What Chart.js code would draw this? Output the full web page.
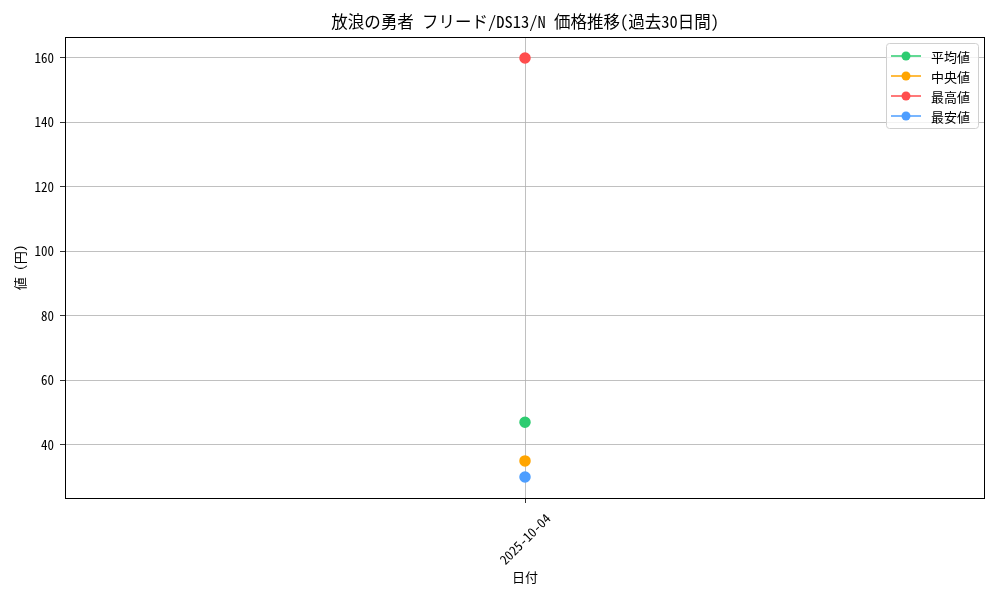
<!DOCTYPE html>
<html>
<head>
<meta charset="utf-8">
<script src="https://cdn.jsdelivr.net/npm/chart.js@4"></script>
<style>
  html, body { margin: 0; padding: 0; background: #fff; }
  #wrap { width: 1000px; height: 600px; }
</style>
</head>
<body>
<div id="wrap"><canvas id="chart" width="1000" height="600"></canvas></div>
<script>
const FONT = "'Noto Sans Mono CJK JP', 'Noto Sans CJK JP', monospace";

const title = "放浪の勇者 フリード/DS13/N 価格推移(過去30日間)";
const dates = ["2025-10-04"];
const avgValues = [47];
const medianValues = [35];
const maxValues = [160];
const minValues = [30];
const yTicks = [40, 60, 80, 100, 120, 140, 160];

const series = [
  { label: "平均値", data: avgValues, color: "#2ecc71" },
  { label: "中央値", data: medianValues, color: "#ffa500" },
  { label: "最高値", data: maxValues, color: "#ff4d4d" },
  { label: "最安値", data: minValues, color: "#4d9eff" }
];

// frame, title, rotated date labels and legend drawn like matplotlib
const decor = {
  id: "decor",
  afterDraw(chart) {
    const { ctx, chartArea: a } = chart;
    const xs = chart.scales.x;
    ctx.save();
    ctx.strokeStyle = "#000";
    ctx.lineWidth = 1;
    ctx.strokeRect(a.left + 0.5, a.top + 0.5, a.right - a.left - 1, a.bottom - a.top);

    ctx.fillStyle = "#000";
    ctx.font = "16.5px " + FONT;
    ctx.textAlign = "center";
    ctx.textBaseline = "middle";
    ctx.fillText(title, (a.left + a.right) / 2, 22);

    // date labels, rotated 45deg and centred under the tick
    ctx.font = "13px " + FONT;
    dates.forEach((d, i) => {
      const x = xs.getPixelForValue(i);
      ctx.save();
      ctx.translate(x, a.bottom + 41);
      ctx.rotate(-Math.PI / 4);
      ctx.fillText(d, 0, 0);
      ctx.restore();
    });

    // legend box
    const bx = a.right - 99, by = a.top + 6, bw = 92, bh = 85;
    ctx.fillStyle = "rgba(255,255,255,0.8)";
    ctx.strokeStyle = "#d0d0d0";
    ctx.lineWidth = 1;
    ctx.beginPath();
    ctx.roundRect(bx + 0.5, by + 0.5, bw, bh, 3);
    ctx.fill();
    ctx.stroke();
    ctx.font = "13px " + FONT;
    ctx.textAlign = "left";
    series.forEach((s, i) => {
      const y = by + 13 + i * 20;
      ctx.strokeStyle = s.color;
      ctx.lineWidth = 1.5;
      ctx.beginPath();
      ctx.moveTo(bx + 5, y);
      ctx.lineTo(bx + 35, y);
      ctx.stroke();
      ctx.fillStyle = s.color;
      ctx.beginPath();
      ctx.arc(bx + 20, y, 4.5, 0, Math.PI * 2);
      ctx.fill();
      ctx.fillStyle = "#000";
      ctx.fillText(s.label, bx + 45, y + 1);
    });
    ctx.restore();
  }
};

new Chart(document.getElementById("chart"), {
  type: "line",
  data: {
    labels: dates,
    datasets: series.map((s) => ({
      label: s.label,
      data: s.data,
      borderColor: s.color,
      backgroundColor: s.color,
      borderWidth: 1.5,
      pointRadius: 5,
      pointHoverRadius: 5
    }))
  },
  options: {
    responsive: false,
    animation: false,
    layout: { padding: { top: 37, right: 15, left: 0, bottom: 0 } },
    plugins: {
      legend: { display: false },
      tooltip: { enabled: false }
    },
    scales: {
      x: {
        type: "category",
        offset: true,
        grid: { offset: false, color: "#b0b0b0", tickColor: "#000", tickLength: 5, lineWidth: 0.8 },
        border: { display: false },
        ticks: { display: false },
        title: {
          display: true,
          text: "日付",
          color: "#000",
          font: { family: FONT, size: 13 },
          padding: { top: 4, bottom: 15 }
        },
        afterFit(scale) { scale.height = 102; }
      },
      y: {
        min: 23.5,
        max: 166.5,
        afterBuildTicks(scale) { scale.ticks = yTicks.map((v) => ({ value: v })); },
        grid: { color: "#b0b0b0", tickColor: "#000", tickLength: 5, lineWidth: 0.8 },
        border: { display: false },
        ticks: {
          color: "#000",
          font: { family: FONT, size: 13 },
          padding: 6
        },
        title: {
          display: true,
          text: "値 (円)",
          color: "#000",
          font: { family: FONT, size: 13 },
          padding: { top: 12, bottom: 6 }
        },
        afterFit(scale) { scale.width = 65; }
      }
    }
  },
  plugins: [decor]
});
</script>
</body>
</html>
